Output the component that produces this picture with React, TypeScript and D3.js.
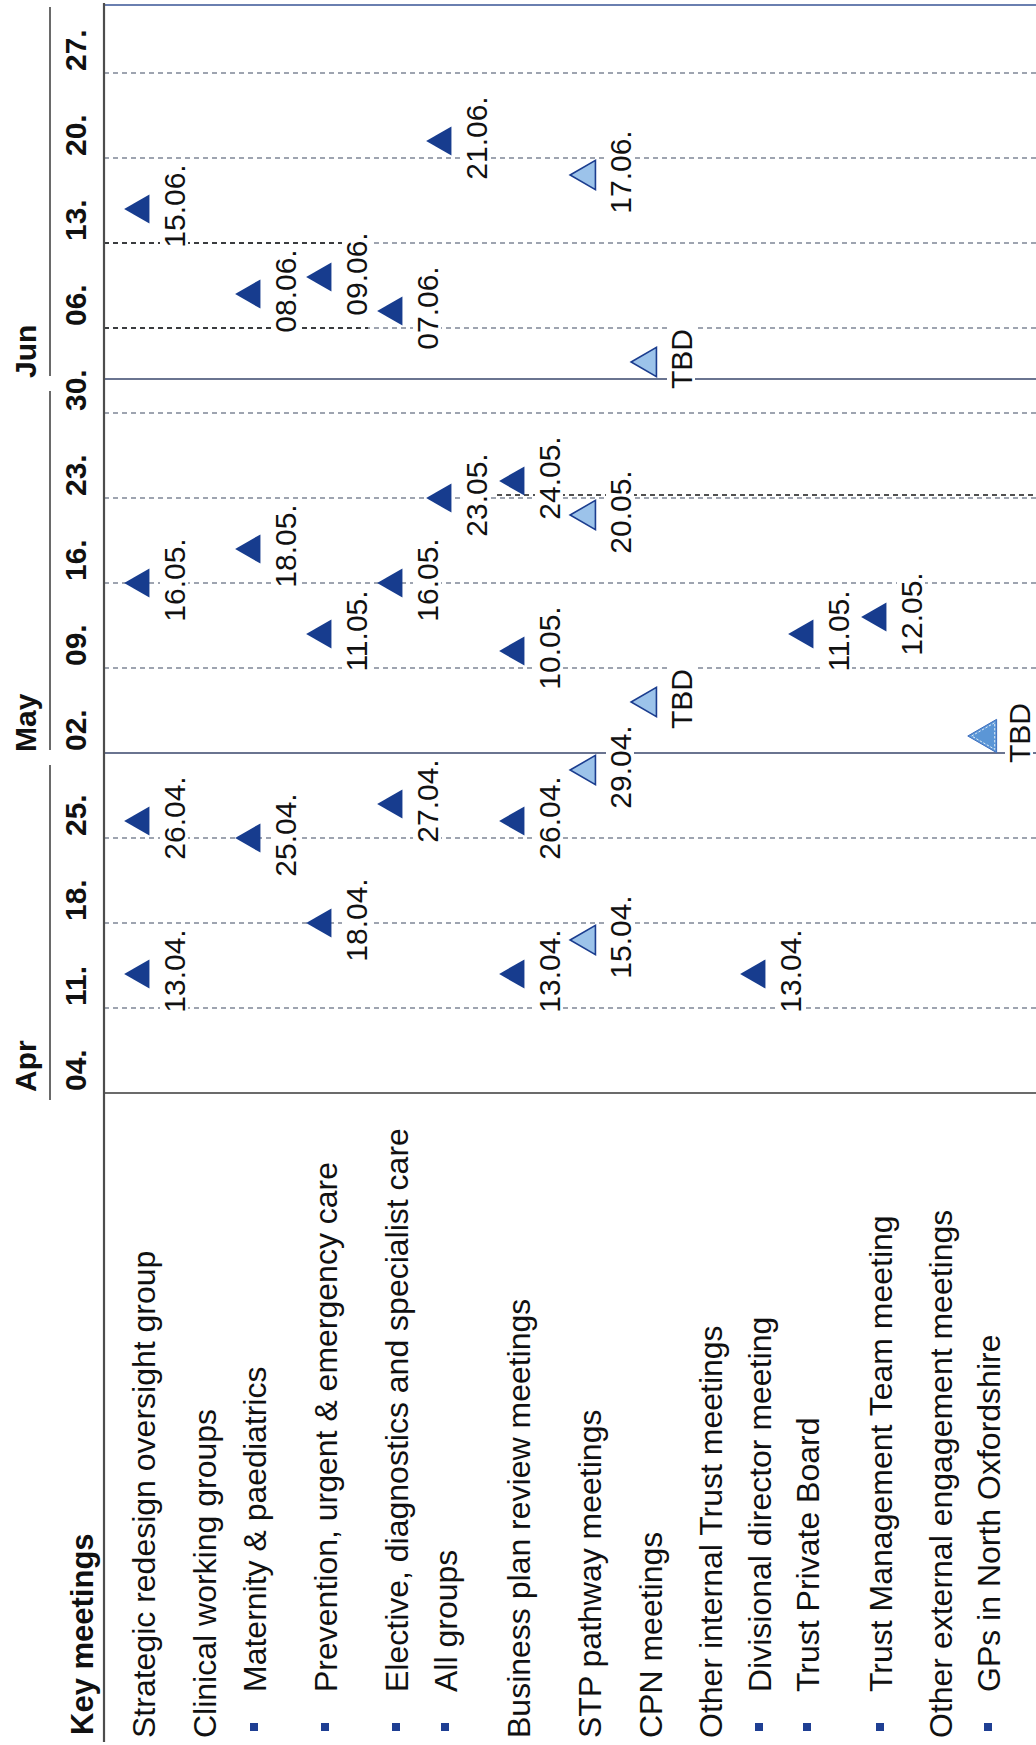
import React from 'react';
import * as d3 from 'd3';

// ---------- data ----------
const START = '2016-04-04';
const END = '2016-07-01';
const monthLabels = ['Apr', 'May', 'Jun'];
const monthStarts = ['2016-04-04', '2016-05-01', '2016-06-01'];

const rowLabels = [
  'Key meetings',
  'Strategic redesign oversight group',
  'Clinical working groups',
  'Maternity & paediatrics',
  'Prevention, urgent & emergency care',
  'Elective, diagnostics and specialist care',
  'All groups',
  'Business plan review meetings',
  'STP pathway meetings',
  'CPN meetings',
  'Other internal Trust meetings',
  'Divisional director meeting',
  'Trust Private Board',
  'Trust Management Team meeting',
  'Other external engagement meetings',
  'GPs in North Oxfordshire',
];
const rowKinds = ['title', 'main', 'main', 'sub', 'sub', 'sub', 'sub', 'main', 'main', 'main', 'main', 'sub', 'sub', 'sub', 'main', 'sub'];

const msRow = [
  'Strategic redesign oversight group', 'Strategic redesign oversight group', 'Strategic redesign oversight group', 'Strategic redesign oversight group',
  'Maternity & paediatrics', 'Maternity & paediatrics', 'Maternity & paediatrics',
  'Prevention, urgent & emergency care', 'Prevention, urgent & emergency care', 'Prevention, urgent & emergency care',
  'Elective, diagnostics and specialist care', 'Elective, diagnostics and specialist care', 'Elective, diagnostics and specialist care',
  'All groups', 'All groups',
  'Business plan review meetings', 'Business plan review meetings', 'Business plan review meetings', 'Business plan review meetings',
  'STP pathway meetings', 'STP pathway meetings', 'STP pathway meetings', 'STP pathway meetings',
  'CPN meetings', 'CPN meetings',
  'Divisional director meeting',
  'Trust Private Board',
  'Trust Management Team meeting',
  'GPs in North Oxfordshire',
];
const msDate = [
  '2016-04-13', '2016-04-26', '2016-05-16', '2016-06-15',
  '2016-04-25', '2016-05-18', '2016-06-08',
  '2016-04-18', '2016-05-11', '2016-06-09',
  '2016-04-27', '2016-05-16', '2016-06-07',
  '2016-05-23', '2016-06-21',
  '2016-04-13', '2016-04-26', '2016-05-10', '2016-05-24',
  '2016-04-15', '2016-04-29', '2016-05-20', '2016-06-17',
  '2016-05-05', '2016-06-02',
  '2016-04-13',
  '2016-05-11',
  '2016-05-12',
  '2016-05-03',
];
const msStatus = [
  'held', 'held', 'held', 'held',
  'held', 'held', 'held',
  'held', 'held', 'held',
  'held', 'held', 'held',
  'held', 'held',
  'held', 'held', 'held', 'held',
  'planned', 'planned', 'planned', 'planned',
  'tbd', 'tbd',
  'held',
  'held',
  'held',
  'tentative',
];

// ---------- layout ----------
const W = 1036;
const H = 1745;
const LEFT = 104;
const RIGHT = 1036;
const rowBaselines = [93, 155, 216, 266, 337, 408, 457, 530, 601, 662, 722, 771, 819, 892, 952, 1000];
const FONT = "'Liberation Sans', Arial, Helvetica, sans-serif";

const parse = d3.timeParse('%Y-%m-%d');
const t0 = parse(START) as Date;
const tEnd = parse(END) as Date;

function workIdx(d: Date) {
  const w = d3.timeMonday.count(t0, d);
  const dow = (d.getDay() + 6) % 7;
  return dow >= 5 ? (w + 1) * 5 : w * 5 + dow;
}

const charW: Record<string, number> = { '.': 0.278, T: 0.611, B: 0.667, D: 0.722 };
function textW(s: string, fs: number) {
  let t = 0;
  for (const c of s) t += charW[c] ?? 0.556;
  return t * fs;
}

const fmtWeek = d3.timeFormat('%d.');
const fmtDate = d3.timeFormat('%d.%m.');

export default function App() {
  const y = d3.scaleLinear().domain([0, workIdx(tEnd)]).range([1093, 5]);
  const rowX = d3.scaleOrdinal<string, number>().domain(rowLabels).range(rowBaselines);
  const mondays = d3.timeMonday.range(t0, d3.timeDay.offset(tEnd, 1));
  const months = monthStarts.map((s, i) => ({ label: monthLabels[i], y: y(workIdx(parse(s) as Date)) }));

  const ms = msDate.map((ds, i) => {
    const d = parse(ds) as Date;
    const base = rowX(msRow[i]);
    const status = msStatus[i];
    return {
      cy: y(workIdx(d)),
      base,
      status,
      label: status === 'tbd' || status === 'tentative' ? 'TBD' : fmtDate(d),
    };
  });

  const triSmall = d3.symbol(d3.symbolTriangle, 370)();
  const triBig = d3.symbol(d3.symbolTriangle, 480)();

  const DATE_FS = 30;

  // darker dashed overlays seen in the source
  const darkSegs = [
    { date: '2016-06-13', x1: LEFT, x2: rowX('Elective, diagnostics and specialist care') - 42 },
    { date: '2016-06-06', x1: LEFT, x2: rowX('Elective, diagnostics and specialist care') - 40 },
    { date: '2016-05-23', x1: rowX('Business plan review meetings') - 33, x2: RIGHT },
  ];

  return (
    <svg
      width={W}
      height={H}
      viewBox={`0 0 ${W} ${H}`}
      style={{ position: 'absolute', left: 0, top: 0, background: '#fff', display: 'block' }}
      fontFamily={FONT}
    >
      <rect x={0} y={0} width={W} height={H} fill="#fff" />

      {/* week dashed lines */}
      {mondays.slice(1).map((m, i) => (
        <line
          key={'wk' + i}
          x1={LEFT}
          x2={RIGHT}
          y1={y(workIdx(m))}
          y2={y(workIdx(m))}
          stroke="#7f8696"
          strokeWidth={1.4}
          strokeDasharray="5 4"
        />
      ))}
      {darkSegs.map((s, i) => {
        const yy = y(workIdx(parse(s.date) as Date)) - (i === 2 ? 3 : 0);
        return (
          <line key={'ds' + i} x1={s.x1} x2={s.x2} y1={yy} y2={yy} stroke="#1a1a1a" strokeWidth={1.4} strokeDasharray="5 4" />
        );
      })}

      {/* month boundary solid lines */}
      {months.slice(1).map((m, i) => (
        <line key={'mb' + i} x1={LEFT} x2={RIGHT} y1={m.y} y2={m.y} stroke="#6a7490" strokeWidth={1.8} />
      ))}

      {/* borders */}
      <line x1={LEFT} x2={RIGHT} y1={y(0)} y2={y(0)} stroke="#6b6b6b" strokeWidth={1.8} />
      <line x1={LEFT} x2={RIGHT} y1={y(workIdx(tEnd))} y2={y(workIdx(tEnd))} stroke="#6a7fb0" strokeWidth={1.8} />
      <line x1={LEFT} x2={LEFT} y1={3} y2={1742} stroke="#4d4d4d" strokeWidth={2.2} />

      {/* month header separators */}
      {months.map((m, i) => {
        const top = i < months.length - 1 ? months[i + 1].y + 12 : y(workIdx(tEnd)) + 2;
        const bottom = i === 0 ? m.y + 7 : m.y - 3;
        return <line key={'ms' + i} x1={50} x2={50} y1={bottom} y2={top} stroke="#5a5a5a" strokeWidth={1.8} />;
      })}

      {/* month labels */}
      {months.map((m, i) => (
        <text
          key={'ml' + i}
          transform={`translate(36,${m.y - 1}) rotate(-90)`}
          fontSize={30}
          fontWeight="bold"
          fill="#111"
        >
          {m.label}
        </text>
      ))}

      {/* week labels */}
      {mondays.map((m, i) => (
        <text
          key={'wl' + i}
          transform={`translate(86,${y(workIdx(m)) - 2}) rotate(-90)`}
          fontSize={30}
          fontWeight="bold"
          fill="#111"
        >
          {fmtWeek(m)}
        </text>
      ))}

      {/* row labels */}
      {rowLabels.map((r, i) => {
        const kind = rowKinds[i];
        const bx = rowX(r);
        if (kind === 'title') {
          return (
            <text key={'rl' + i} transform={`translate(${bx},1735) rotate(-90)`} fontSize={31} fontWeight="bold" fill="#111">
              {r}
            </text>
          );
        }
        const sy = kind === 'sub' ? 1692 : 1738;
        return (
          <g key={'rl' + i}>
            {kind === 'sub' && <rect x={bx - 16} y={1723} width={8} height={8} fill="#1f3f93" />}
            <text transform={`translate(${bx},${sy}) rotate(-90)`} fontSize={32} fill="#111">
              {r}
            </text>
          </g>
        );
      })}

      {/* milestone label knockouts + labels */}
      {ms.map((m, i) => {
        const lx = m.base + 30;
        const w = textW(m.label, DATE_FS);
        const cy = m.cy - 3;
        return (
          <g key={'lab' + i}>
            <rect x={lx - 25} y={cy - w / 2 - 3} width={28} height={w + 6} fill="#fff" />
            <text
              transform={`translate(${lx},${cy}) rotate(-90)`}
              textAnchor="middle"
              fontSize={DATE_FS}
              fill="#111"
            >
              {m.label}
            </text>
          </g>
        );
      })}

      {/* milestone triangles */}
      {ms.map((m, i) => {
        const cx = m.base - 14;
        if (m.status === 'held') {
          return (
            <path key={'tri' + i} d={triSmall as string} transform={`translate(${cx},${m.cy}) rotate(-90)`} fill="#173c8e" />
          );
        }
        if (m.status === 'tentative') {
          return (
            <g key={'tri' + i} transform={`translate(${cx + 1},${m.cy}) rotate(-90)`}>
              <path d={triBig as string} fill="#5b96d6" stroke="#3f6fbf" strokeWidth={1} />
              <path d={triBig as string} transform="scale(0.8)" fill="none" stroke="#ffffff" strokeWidth={1} strokeDasharray="3 2" />
            </g>
          );
        }
        return (
          <path
            key={'tri' + i}
            d={triSmall as string}
            transform={`translate(${cx},${m.cy}) rotate(-90)`}
            fill="#9cc3ea"
            stroke="#1b3d8f"
            strokeWidth={1.6}
          />
        );
      })}
    </svg>
  );
}
